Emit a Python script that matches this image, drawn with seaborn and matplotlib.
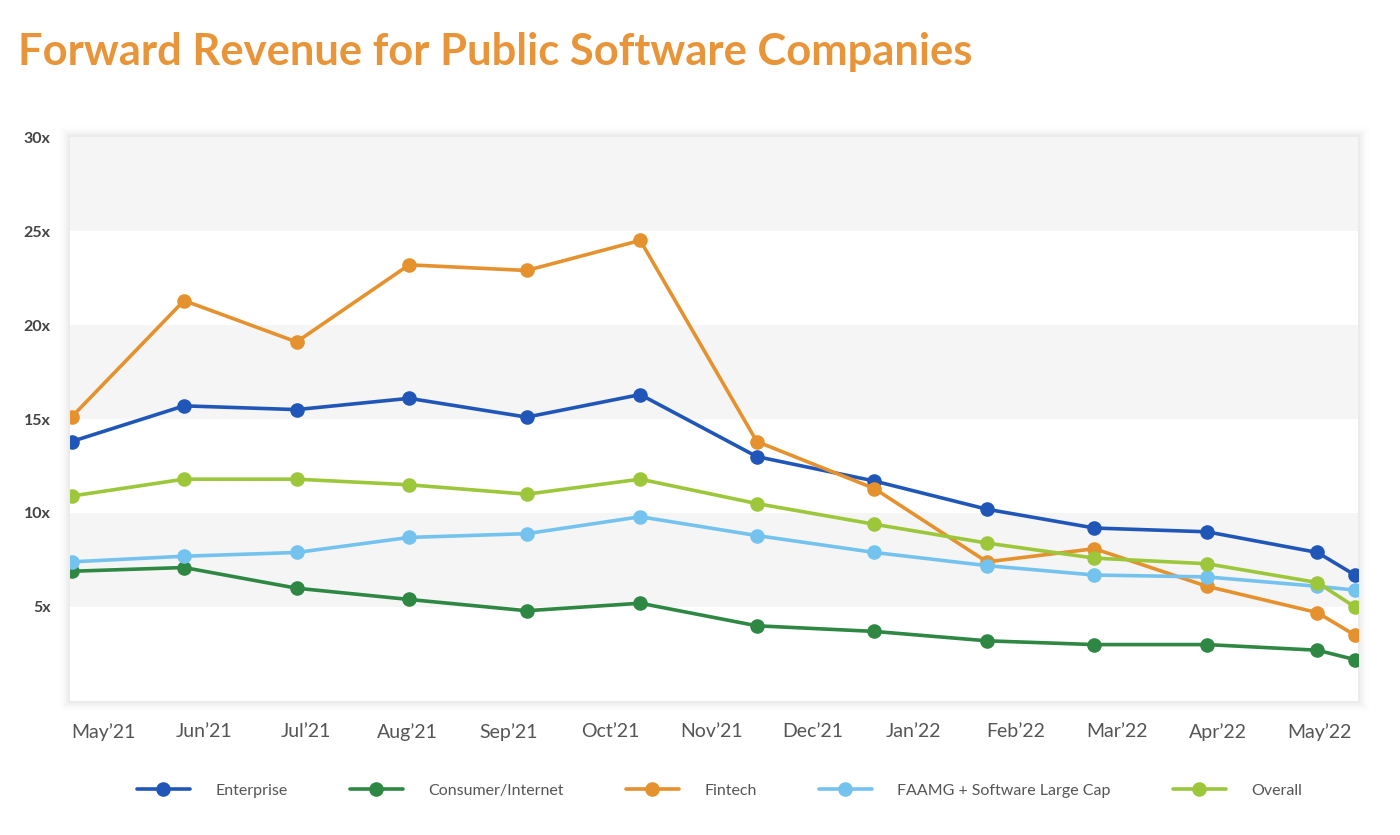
import pandas as pd
import matplotlib.pyplot as plt
import seaborn as sns
from matplotlib.lines import Line2D
from matplotlib.patches import FancyBboxPatch

# ----------------------------
# Data
# ----------------------------
month_labels = ["May’21", "Jun’21", "Jul’21", "Aug’21", "Sep’21", "Oct’21", "Nov’21",
                "Dec’21", "Jan’22", "Feb’22", "Mar’22", "Apr’22", "May’22"]

# where each observation sits, in month-label units (May'21 = 0)
obs_x = [-0.31, 0.80, 1.91, 3.02, 4.18, 5.30, 6.45, 7.61, 8.72, 9.78, 10.89, 11.98, 12.35]

enterprise = [13.8, 15.7, 15.5, 16.1, 15.1, 16.3, 13.0, 11.7, 10.2, 9.2, 9.0, 7.9, 6.7]
consumer = [6.9, 7.1, 6.0, 5.4, 4.8, 5.2, 4.0, 3.7, 3.2, 3.0, 3.0, 2.7, 2.2]
fintech = [15.1, 21.3, 19.1, 23.2, 22.9, 24.5, 13.8, 11.3, 7.4, 8.1, 6.1, 4.7, 3.5]
faamg = [7.4, 7.7, 7.9, 8.7, 8.9, 9.8, 8.8, 7.9, 7.2, 6.7, 6.6, 6.1, 5.9]
overall = [10.9, 11.8, 11.8, 11.5, 11.0, 11.8, 10.5, 9.4, 8.4, 7.6, 7.3, 6.3, 5.0]

series_names = ["Enterprise", "Consumer/Internet", "Fintech",
                "FAAMG + Software Large Cap", "Overall"]
series_values = [enterprise, consumer, fintech, faamg, overall]
colors = ["#2156B9", "#2E8742", "#E5912E", "#74C3EF", "#9DC73B"]

y_ticks = [5, 10, 15, 20, 25, 30]

df = pd.concat([
    pd.DataFrame({"x": obs_x, "value": vals, "segment": name})
    for name, vals in zip(series_names, series_values)
])
palette = dict(zip(series_names, colors))

# ----------------------------
# Style
# ----------------------------
sns.set_style("white")
plt.rcParams["font.family"] = ["Lato", "DejaVu Sans"]

fig = plt.figure(figsize=(14, 8.35), dpi=100)
ax = fig.add_axes([0.05, 0.1605, 0.92, 0.6754])

# soft shadow around the plot panel
for i, a in enumerate([0.025, 0.02, 0.015, 0.01, 0.006]):
    pad = 0.0015 * (i + 1)
    fig.patches.append(FancyBboxPatch(
        (0.05 - pad, 0.1605 - pad * 1.6), 0.92 + 2 * pad, 0.6754 + 2 * pad * 1.6,
        boxstyle="square,pad=0", transform=fig.transFigure,
        facecolor="black", edgecolor="none", alpha=a, zorder=-1))

# alternating grey bands
for lo in [5, 15, 25]:
    ax.axhspan(lo, lo + 5, color="#F5F5F5", zorder=0, lw=0)

sns.lineplot(data=df, x="x", y="value", hue="segment", palette=palette,
             hue_order=series_names, marker="o", markersize=10.5,
             markeredgewidth=0, linewidth=2.6, legend=False, ax=ax, zorder=3)

ax.set_xlim(-0.325, 12.38)
ax.set_ylim(0, 30)
ax.set_xticks(range(len(month_labels)))
ax.set_xticklabels(month_labels, fontsize=14, color="#555555")
ax.set_yticks(y_ticks)
ax.set_yticklabels([f"{t}x" for t in y_ticks], fontsize=11.5,
                   fontweight="bold", color="#444444")
ax.tick_params(axis="x", length=0, pad=16)
ax.tick_params(axis="y", length=0, pad=14)
ax.set_xlabel("")
ax.set_ylabel("")
for s in ax.spines.values():
    s.set_visible(False)

# ----------------------------
# Legend
# ----------------------------
handles = [Line2D([0], [0], color=c, lw=2.6, marker="o", markersize=10.5,
                  markeredgewidth=0) for c in colors]
fig.legend(handles, series_names, loc="center", bbox_to_anchor=(0.514, 0.053),
           ncol=5, frameon=False, fontsize=11.5, labelcolor="#555555",
           handlelength=3.3, handletextpad=1.6, columnspacing=3.9)

# ----------------------------
# Title
# ----------------------------
fig.text(0.013, 0.922, "Forward Revenue for Public Software Companies",
         fontsize=31.3, fontweight="bold", color="#E8953A", va="baseline", ha="left")

fig.savefig("out.png", dpi=100, facecolor="white")
